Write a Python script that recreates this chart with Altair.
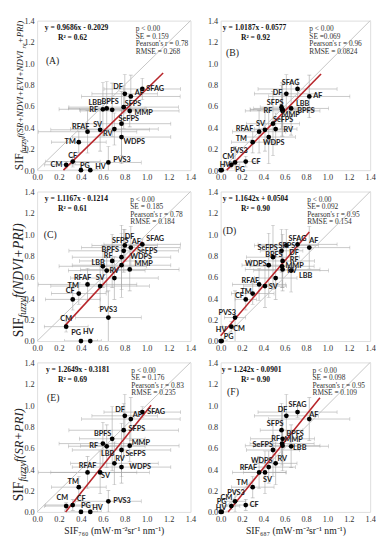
import altair as alt
import pandas as pd

# ---------------- data ----------------
sites = ["SFAG", "DF", "AF", "SFPS", "MMP", "RF", "LBB", "BPFS", "SeFPS", "RFAF",
         "SV", "RV", "TM", "WDPS", "PVS3", "CF", "CM", "PG", "HV"]

sif760 = [0.96, 0.80, 0.855, 0.79, 0.845, 0.60, 0.635, 0.685, 0.77, 0.46,
          0.575, 0.705, 0.38, 0.77, 0.65, 0.325, 0.265, 0.40, 0.485]
sif760_sd = [0.35, 0.30, 0.45, 0.50, 0.45, 0.40, 0.35, 0.30, 0.45, 0.45,
             0.45, 0.40, 0.25, 0.45, 0.30, 0.25, 0.20, 0.15, 0.10]

sif687 = [0.72, 0.615, 0.83, 0.57, 0.58, 0.575, 0.66, 0.58, 0.49, 0.36,
          0.415, 0.515, 0.30, 0.45, 0.135, 0.235, 0.10, 0.01, 0.0]
sif687_sd = [0.37, 0.30, 0.38, 0.20, 0.35, 0.30, 0.35, 0.30, 0.25, 0.25,
             0.20, 0.20, 0.20, 0.25, 0.10, 0.10, 0.08, 0.05, 0.02]

fz_all = [0.76, 0.715, 0.69, 0.59, 0.555, 0.57, 0.578, 0.565, 0.435, 0.36,
          0.378, 0.385, 0.262, 0.31, 0.072, 0.08, 0.05, 0.0, 0.0]
fz_all_sd = [0.10, 0.18, 0.20, 0.20, 0.15, 0.25, 0.25, 0.25, 0.30, 0.20,
             0.20, 0.15, 0.10, 0.25, 0.15, 0.05, 0.03, 0.02, 0.02]

fz_ndvi_pri = [0.905, 0.895, 0.875, 0.845, 0.67, 0.70, 0.66, 0.75, 0.785, 0.53,
               0.515, 0.59, 0.445, 0.71, 0.22, 0.39, 0.135, 0.0, 0.0]
fz_ndvi_pri_sd = [0.05, 0.15, 0.20, 0.20, 0.20, 0.20, 0.20, 0.25, 0.30, 0.15,
                  0.20, 0.20, 0.10, 0.30, 0.25, 0.10, 0.05, 0.02, 0.02]

fz_sr_pri = [0.935, 0.90, 0.87, 0.765, 0.62, 0.64, 0.615, 0.685, 0.58, 0.37,
             0.37, 0.455, 0.232, 0.42, 0.10, 0.065, 0.055, 0.0, 0.0]
fz_sr_pri_sd = [0.05, 0.20, 0.20, 0.25, 0.15, 0.20, 0.20, 0.30, 0.25, 0.15,
                0.20, 0.20, 0.10, 0.15, 0.10, 0.05, 0.03, 0.02, 0.02]

equations = ["y = 0.9686x - 0.2029", "y = 1.0187x - 0.0577", "y = 1.1167x - 0.1214",
             "y = 1.1642x + 0.0504", "y = 1.2649x - 0.3181", "y = 1.242x - 0.0901"]
r2_text = ["R² = 0.62", "R² = 0.92", "R² = 0.61", "R² = 0.90", "R² = 0.69", "R² = 0.90"]
stats_text = [
    ["p < 0.00", "SE = 0.159", "Pearson's r = 0.78", "RMSE = 0.268"],
    ["p < 0.00", "SE =0.069", "Pearson's r = 0.96", "RMSE = 0.0824"],
    ["p < 0.00", "SE = 0.185", "Pearson's r = 0.78", "RMSE = 0.184"],
    ["p < 0.00", "SE= 0.092", "Pearson's r = 0.95", "RMSE = 0.154"],
    ["p < 0.00", "SE = 0.176", "Pearson's r = 0.83", "RMSE = 0.235"],
    ["p < 0.00", "SE = 0.098", "Pearson's r = 0.95", "RMSE = 0.109"],
]
tags = ["(A)", "(B)", "(C)", "(D)", "(E)", "(F)"]
# fitted line end points (x0, x1) and (y0, y1)
fit_x = [[0.24, 1.15], [0.057, 0.94], [0.25, 0.96], [0.0, 0.83], [0.26, 1.04], [0.07, 0.93]]
fit_y = [[0.0, 0.91], [0.0, 0.90], [0.14, 0.93], [0.05, 1.02], [0.0, 1.0], [0.0, 1.07]]
ticks = [0.0, 0.2, 0.4, 0.6, 0.8, 1.0, 1.2, 1.4]

# ---------------- layout / styling ----------------
SERIF = "Liberation Serif"
LBLFONT = "Lato"
RED = "#b8262b"
GREY = "#a3a3a3"

# label placement per panel: site -> (dx px, dy px, align)
place = [
    {"DF": (-2, -7, "right"), "AF": (4, -3, "left"), "LBB": (-5, -6, "right"), "BPFS": (-11, -8, "left"),
     "RF": (-5, 1, "right"), "SFPS": (1, -3, "left"), "MMP": (5, 2, "left"), "SeFPS": (-3, -5, "left"),
     "RFAF": (2, -5, "right"), "SV": (2, -5, "right"), "RV": (-2, 5, "right"), "TM": (-3, 0, "right"),
     "WDPS": (2, 5, "left"), "PVS3": (5, -2, "left"), "CF": (0, -6, "center"), "CM": (-4, 0, "right"),
     "PG": (-1, -4, "left"), "HV": (5, -3, "left")},
    {"SFAG": (2, -6, "right"), "DF": (-4, -1, "right"), "SFPS": (2, -4, "right"), "RF": (-10, 2, "right"),
     "MMP": (-1, 4, "left"), "LBB": (5, -5, "left"), "BPFS": (15, 1, "left"), "SeFPS": (0, -4, "left"),
     "SV": (0, -6, "right"), "RV": (8, 1, "left"), "RFAF": (-6, -3, "right"), "TM": (-6, -3, "right"),
     "WDPS": (-6, 6, "left"), "PVS3": (-5, -12, "left"), "CM": (3, -8, "right"), "CF": (6, 0, "left"),
     "HV": (-1, -5, "left"), "PG": (14, 0, "left")},
    {"DF": (0, -9, "left"), "SFPS": (5, -10, "right"), "AF": (1, -6, "left"), "SFAG": (4, -5, "left"),
     "BPFS": (-2, -11, "center"), "SeFPS": (16, -6, "left"), "RF": (1, -11, "left"), "WDPS": (9, -8, "left"),
     "LBB": (-2, -8, "right"), "MMP": (5, -6, "left"), "RV": (0, -7, "center"), "RFAF": (4, -7, "right"),
     "SV": (0, -8, "center"), "TM": (0, -8, "right"), "CF": (2, -9, "right"), "PVS3": (0, -8, "center"),
     "CM": (0, -8, "center"), "PG": (0, -8, "right"), "HV": (-2, -9, "center")},
    {"SFPS": (-3, -5, "left"), "SFAG": (0, -6, "center"), "AF": (0, -7, "left"), "SeFPS": (5, -9, "right"),
     "DF": (3, 8, "left"), "BPFS": (0, -6, "right"), "RF": (8, -6, "left"), "WDPS": (-2, -1, "right"),
     "MMP": (3, -4, "left"), "RV": (12, -7, "left"), "LBB": (8, 6, "left"), "RFAF": (0, -4, "right"),
     "SV": (4, 1, "left"), "TM": (-1, -2, "right"), "CF": (-2, -3, "right"), "PVS3": (1, -5, "right"),
     "HV": (-5, -11, "left"), "CM": (2, 3, "left"), "PG": (2, -4, "left")},
    {"DF": (0, -6, "right"), "AF": (2, -4, "left"), "SFAG": (5, 0, "left"), "SFPS": (5, -1, "left"),
     "BPFS": (-1, -5, "right"), "RF": (-5, 3, "right"), "MMP": (2, -3, "left"), "LBB": (1, 8, "center"),
     "SeFPS": (4, 4, "left"), "RV": (1, -4, "left"), "WDPS": (8, 0, "left"), "RFAF": (0, -7, "center"),
     "SV": (1, 4, "left"), "TM": (0, -5, "right"), "CM": (2, -8, "right"), "CF": (4, -6, "left"),
     "PG": (0, -6, "left"), "HV": (2, -4, "left"), "PVS3": (5, 0, "left")},
    {"DF": (1, -6, "right"), "SFAG": (0, -7, "center"), "AF": (0, -4, "left"), "SFPS": (2, -6, "right"),
     "BPFS": (4, -5, "left"), "RF": (-2, -5, "right"), "MMP": (2, -6, "left"), "SeFPS": (0, -5, "right"),
     "LBB": (2, 2, "left"), "WDPS": (4, -6, "right"), "RV": (2, -4, "left"), "RFAF": (-2, -4, "right"),
     "SV": (-2, 8, "left"), "TM": (-5, -4, "right"), "PVS3": (-8, -8, "left"), "CM": (1, -8, "right"),
     "CF": (4, 0, "left"), "PG": (-5, -10, "left"), "HV": (-5, -4, "left")},
]
eq_x = [0.07, 0.02, 0.07, 0.02, 0.08, 0.01]
stats_x = [0.90, 0.83, 0.85, 0.81, 0.86, 0.86]
tag_xy = [(0.08, 1.02), (0.05, 1.10), (0.06, 0.99), (0.02, 1.03), (0.09, 1.07), (0.06, 1.12)]

# rotated y titles (pieces: text, size, italic, subscript)
ytitles = {
    0: (154, [("SIF", 12, False, False), ("fuzzy", 8, True, True), (" f(SR+NDVI+EVI+NDVI", 9, True, False),
              ("re", 6.5, True, True), ("+PRI)", 9, True, False)]),
    2: (150, [("SIF", 14, False, False), ("fuzzy", 10, True, True), (" f(NDVI+PRI)", 14, True, False)]),
    4: (143, [("SIF", 14, False, False), ("fuzzy", 10, True, True), (" f(SR+PRI)", 13, True, False)]),
}
REGW = {"S": .556, "I": .333, "F": .556}
ITAW = {"f": .278, "u": .5, "z": .389, "y": .444, "(": .333, ")": .333, "S": .5, "R": .611, "+": .675,
        "N": .667, "D": .722, "V": .611, "I": .333, "E": .611, "P": .611, "r": .389, "e": .444, " ": .25}


def tw(s, size, italic):
    t = ITAW if italic else REGW
    return sum(t.get(c, .5) for c in s) * size


xtitles = ["SIF₇₆₀ (mW·m⁻²sr⁻¹ nm⁻¹)", "SIF₆₈₇ (mW·m⁻²sr⁻¹ nm⁻¹)"]


def panel(i, xv, xsd, yv, ysd, w, h):
    kx, ky = w / 1.4, h / 1.4
    df = pd.DataFrame({"site": sites, "x": xv, "y": yv, "xsd": xsd, "ysd": ysd})
    df["xlo"] = df["x"] - df["xsd"]
    df["xhi"] = df["x"] + df["xsd"]
    df["ylo"] = df["y"] - df["ysd"]
    df["yhi"] = df["y"] + df["ysd"]
    pl = [place[i].get(s, (4, 0, "left")) for s in sites]
    df["lx"] = [x + p[0] / kx for x, p in zip(xv, pl)]
    df["ly"] = [y - p[1] / ky for y, p in zip(yv, pl)]
    df["al"] = [p[2] for p in pl]

    capx = pd.concat([pd.DataFrame({"cx": df["xlo"], "y": df["y"]}),
                      pd.DataFrame({"cx": df["xhi"], "y": df["y"]})])
    capy = pd.concat([pd.DataFrame({"x": df["x"], "cy": df["ylo"]}),
                      pd.DataFrame({"x": df["x"], "cy": df["yhi"]})])

    bottom = i >= 4
    xtitle = xtitles[i % 2] if bottom else None
    sc = alt.Scale(domain=[0, 1.4], nice=False, zero=False)
    xax = alt.Axis(values=ticks, format=".1f", ticks=False, domain=False, grid=False,
                   labelFont=SERIF, labelFontSize=8.5, labelColor="#333", labelPadding=3,
                   labelFlush=False, labelOverlap=False, titleFont=SERIF, titleFontSize=10,
                   titleFontWeight="normal", titleColor="#222", titlePadding=3)
    yax = alt.Axis(values=ticks, format=".1f", ticks=False, domain=False, grid=False,
                   labelFont=SERIF, labelFontSize=8.5, labelColor="#333", labelPadding=3,
                   labelFlush=False, labelOverlap=False)

    def X(f):
        return alt.X(f, type="quantitative", scale=sc, axis=xax, title=xtitle)

    def Y(f):
        return alt.Y(f, type="quantitative", scale=sc, axis=yax, title=None)

    base = alt.Chart(df)
    layers = []
    layers.append(base.mark_rule(color=GREY, strokeWidth=0.6, clip=True).encode(
        x=X("xlo"), x2="xhi", y=Y("y")))
    layers.append(alt.Chart(capx).mark_tick(color=GREY, thickness=0.6, size=4, orient="vertical",
                                            clip=True).encode(x=X("cx"), y=Y("y")))
    layers.append(base.mark_rule(color=GREY, strokeWidth=0.6, clip=True).encode(
        x=X("x"), y=Y("ylo"), y2="yhi"))
    layers.append(alt.Chart(capy).mark_tick(color=GREY, thickness=0.6, size=4, orient="horizontal",
                                            clip=True).encode(x=X("x"), y=Y("cy")))
    one = pd.DataFrame({"x": [0.0, 1.4], "y": [0.0, 1.4]})
    layers.append(alt.Chart(one).mark_line(color="#c4c4c4", strokeWidth=1).encode(x=X("x"), y=Y("y")))
    fit = pd.DataFrame({"x": fit_x[i], "y": fit_y[i]})
    layers.append(alt.Chart(fit).mark_line(color=RED, strokeWidth=1.6).encode(x=X("x"), y=Y("y")))
    layers.append(base.mark_circle(size=24, color="black", opacity=1).encode(x=X("x"), y=Y("y")))
    for al in ["left", "right", "center"]:
        layers.append(base.transform_filter(alt.datum.al == al).mark_text(
            align=al, baseline="middle", font=LBLFONT, fontWeight="bold", fontSize=7.5,
            color="#1a1a1a").encode(x=X("lx"), y=Y("ly"), text="site:N"))
    eqdf = pd.DataFrame({"x": [eq_x[i]], "y": [1.33], "t": [equations[i]]})
    layers.append(alt.Chart(eqdf).mark_text(align="left", baseline="middle", font=SERIF,
                                            fontWeight="bold", fontSize=7.8, color="#111").encode(
        x=X("x"), y=Y("y"), text="t:N"))
    r2df = pd.DataFrame({"x": [0.19], "y": [1.235], "t": [r2_text[i]]})
    layers.append(alt.Chart(r2df).mark_text(align="left", baseline="middle", font=SERIF,
                                            fontWeight="bold", fontSize=7.8, color="#111").encode(
        x=X("x"), y=Y("y"), text="t:N"))
    stdf = pd.DataFrame({"x": [stats_x[i]] * 4, "y": [1.32, 1.25, 1.18, 1.11], "t": stats_text[i]})
    layers.append(alt.Chart(stdf).mark_text(align="left", baseline="middle", font=SERIF,
                                            fontSize=7.6, color="#333").encode(
        x=X("x"), y=Y("y"), text="t:N"))
    tgdf = pd.DataFrame({"x": [tag_xy[i][0]], "y": [tag_xy[i][1]], "t": [tags[i]]})
    layers.append(alt.Chart(tgdf).mark_text(align="left", baseline="middle", font=SERIF,
                                            fontSize=10, color="#222").encode(
        x=X("x"), y=Y("y"), text="t:N"))
    if i in ytitles:
        start, pieces = ytitles[i]
        pos = start
        for txt, size, ital, sub in pieces:
            tdf = pd.DataFrame({"t": [txt]})
            kw = dict(angle=270, align="left", baseline="alphabetic", font=SERIF,
                      fontSize=size, color="#222")
            if ital:
                kw["fontStyle"] = "italic"
            layers.append(alt.Chart(tdf).mark_text(**kw).encode(
                x=alt.value(-11 if sub else -15), y=alt.value(pos), text="t:N"))
            pos -= tw(txt, size, ital)

    return alt.layer(*layers).properties(width=w, height=h)


ys = [(fz_all, fz_all_sd), (fz_ndvi_pri, fz_ndvi_pri_sd), (fz_sr_pri, fz_sr_pri_sd)]
panels = []
for r, (yv, ysd) in enumerate(ys):
    panels.append(panel(2 * r, sif760, sif760_sd, yv, ysd, 158, 154))
    panels.append(panel(2 * r + 1, sif687, sif687_sd, yv, ysd, 154, 154))

chart = alt.concat(*panels, columns=2, spacing=alt.RowColnumber(row=22, column=31),
                   bounds="flush").properties(
    padding={"left": 3, "top": 0, "right": 0, "bottom": 0}
).configure_view(stroke="#222", strokeWidth=0.8).configure(background="white")

chart.save("out.html", embed_options={"renderer": "svg", "actions": False})
